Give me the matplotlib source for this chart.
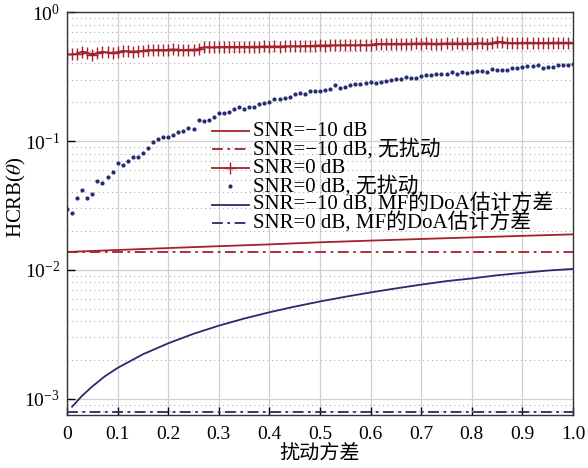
import matplotlib
matplotlib.use("Agg")
import matplotlib.pyplot as plt
import numpy as np
from matplotlib.lines import Line2D
from matplotlib.legend_handler import HandlerLine2D
from matplotlib.ticker import LogLocator, FixedLocator

plt.rcParams['font.family'] = ['Liberation Serif', 'Noto Sans CJK SC']
plt.rcParams['mathtext.fontset'] = 'stix'

# perturbation variance grid for the sampled curves (step 0.01)
x_dense = [i / 100 for i in range(101)]

snr0_plus = [0.470, 0.470, 0.475, 0.495, 0.485, 0.462, 0.485, 0.493, 0.487, 0.480,
             0.490, 0.500, 0.498, 0.494, 0.497, 0.502, 0.508, 0.506, 0.512, 0.507,
             0.511, 0.514, 0.511, 0.509, 0.512, 0.513, 0.515, 0.535, 0.535, 0.533,
             0.536, 0.538, 0.536, 0.539, 0.537, 0.540, 0.538, 0.541, 0.539, 0.542,
             0.540, 0.543, 0.541, 0.544, 0.542, 0.545, 0.543, 0.546, 0.548, 0.550,
             0.552, 0.551, 0.553, 0.552, 0.554, 0.553, 0.555, 0.554, 0.556, 0.555,
             0.557, 0.568, 0.566, 0.569, 0.567, 0.570, 0.568, 0.571, 0.569, 0.572,
             0.570, 0.572, 0.569, 0.571, 0.570, 0.572, 0.571, 0.573, 0.570, 0.572,
             0.571, 0.573, 0.572, 0.571, 0.574, 0.590, 0.588, 0.576, 0.578, 0.575,
             0.577, 0.579, 0.576, 0.578, 0.577, 0.579, 0.578, 0.580, 0.577, 0.579,
             0.578]

snr0_dots = [0.0297, 0.0277, 0.0362, 0.0417, 0.0362, 0.0386, 0.0492, 0.0470, 0.0529, 0.0572,
             0.0671, 0.0648, 0.0704, 0.0751, 0.0755, 0.0807, 0.0877, 0.0977, 0.104, 0.108,
             0.107, 0.1107, 0.1167, 0.1196, 0.126, 0.125, 0.1455, 0.1437, 0.147, 0.1525,
             0.164, 0.166, 0.168, 0.176, 0.1845, 0.177, 0.1845, 0.1825, 0.1935, 0.196,
             0.2006, 0.213, 0.2125, 0.2143, 0.2208, 0.2303, 0.237, 0.2303, 0.2455, 0.244,
             0.2455, 0.248, 0.2545, 0.2716, 0.259, 0.2636, 0.2716, 0.2767, 0.275, 0.283,
             0.2866, 0.283, 0.2884, 0.2938, 0.2955, 0.3009, 0.3041, 0.3133, 0.3113, 0.306,
             0.3209, 0.3268, 0.3248, 0.329, 0.331, 0.333, 0.3427, 0.333, 0.3427, 0.335,
             0.344, 0.3468, 0.3468, 0.3406, 0.3638, 0.353, 0.353, 0.357, 0.370, 0.370,
             0.375, 0.381, 0.3835, 0.388, 0.366, 0.3725, 0.3767, 0.386, 0.3906, 0.3906,
             0.395]

x_coarse = [0.0, 0.1, 0.2, 0.3, 0.4, 0.5, 0.6, 0.7, 0.8, 0.9, 1.0]
snr_m10 = [0.0138, 0.0143, 0.0148, 0.0153, 0.0158, 0.0164, 0.0169, 0.0174, 0.0179, 0.0184, 0.0189]
snr_m10_nopert = [0.0139] * len(x_coarse)
snr0_mf = [0.00079] * len(x_coarse)

x_mf = [0.01, 0.03, 0.05, 0.075, 0.1, 0.15, 0.2, 0.25, 0.3, 0.35, 0.4,
        0.45, 0.5, 0.55, 0.6, 0.65, 0.7, 0.75, 0.8, 0.85, 0.9, 0.95, 1.0]
snr_m10_mf = [0.00087, 0.00106, 0.00125, 0.0015, 0.00174, 0.00222, 0.0027, 0.0032, 0.0037,
              0.0042, 0.0047, 0.0052, 0.0057, 0.0062, 0.0067, 0.0072, 0.0077, 0.0082,
              0.0086, 0.0091, 0.0095, 0.0099, 0.0102]

red = '#a3222d'
navy = '#262b72'
dashdot = (0, (6, 2.5, 1.5, 2.5))


class LowLine(HandlerLine2D):
    # tall handle boxes put the line too high; pull it down to mid-text
    def create_artists(self, legend, orig_handle, xdescent, ydescent, width, height,
                       fontsize, trans):
        return super().create_artists(legend, orig_handle, xdescent,
                                      ydescent + 0.45 * fontsize, width, height,
                                      fontsize, trans)


fig = plt.figure(figsize=(5.88, 4.68), dpi=100)
ax = fig.add_axes([0.114, 0.1132, 0.8605, 0.8608])

ax.plot(x_coarse, snr_m10, color=red, lw=1.3, label='SNR=−10 dB')
ax.plot(x_coarse, snr_m10_nopert, color=red, lw=1.3, ls=dashdot,
        label='SNR=−10 dB, 无扰动')
ax.plot(x_dense, snr0_plus, color=red, lw=1.3, marker='+', ms=8, mew=1.0,
        label='SNR=0 dB')
ax.plot(x_dense, snr0_dots, color=navy, ls='none', marker='.', ms=4,
        label='SNR=0 dB, 无扰动')
ax.plot(x_mf, snr_m10_mf, color=navy, lw=1.3, label='SNR=−10 dB, MF的DoA估计方差')
ax.plot(x_coarse, snr0_mf, color=navy, lw=1.3, ls=dashdot,
        label='SNR=0 dB, MF的DoA估计方差')

ax.set_yscale('log')
ax.set_xlim(0, 1.0)
ax.set_ylim(7.5e-4, 1.0)
ax.xaxis.set_major_locator(FixedLocator(x_coarse))
ax.set_xticklabels(['0', '0.1', '0.2', '0.3', '0.4', '0.5', '0.6', '0.7', '0.8', '0.9', '1.0'])
ax.yaxis.set_major_locator(LogLocator(base=10))
ax.yaxis.set_minor_locator(LogLocator(base=10, subs=np.arange(2, 10)))
ax.tick_params(axis='both', which='major', direction='in', length=6, width=1,
               labelsize=14)
ax.tick_params(axis='x', pad=8)
ax.tick_params(axis='y', pad=5)
ax.tick_params(axis='y', which='minor', length=0)

ax.grid(True, which='major', color='#d0d0d0', lw=0.9, ls='-')
ax.grid(True, which='minor', axis='y', color='#b0b0b0', lw=0.8, ls=(0, (1, 3)))
ax.set_axisbelow(True)
for s in ax.spines.values():
    s.set_color('#333333')
    s.set_linewidth(1.0)

ax.set_xlabel('扰动方差', fontsize=14.5, family='Noto Sans CJK SC', labelpad=0)
ax.set_ylabel(r'HCRB($\theta$)', fontsize=15)
ax.yaxis.set_label_coords(-0.077, 0.54)

# tall handle boxes keep every legend row the same height (latin vs CJK rows)
ax.legend(loc='upper left', bbox_to_anchor=(0.287, 0.742), frameon=False,
          fontsize=15, handlelength=1.75, handleheight=1.5, handletextpad=0.2,
          labelspacing=-0.33, borderpad=0, borderaxespad=0,
          handler_map={Line2D: LowLine()})

fig.savefig('out.png', dpi=100)
